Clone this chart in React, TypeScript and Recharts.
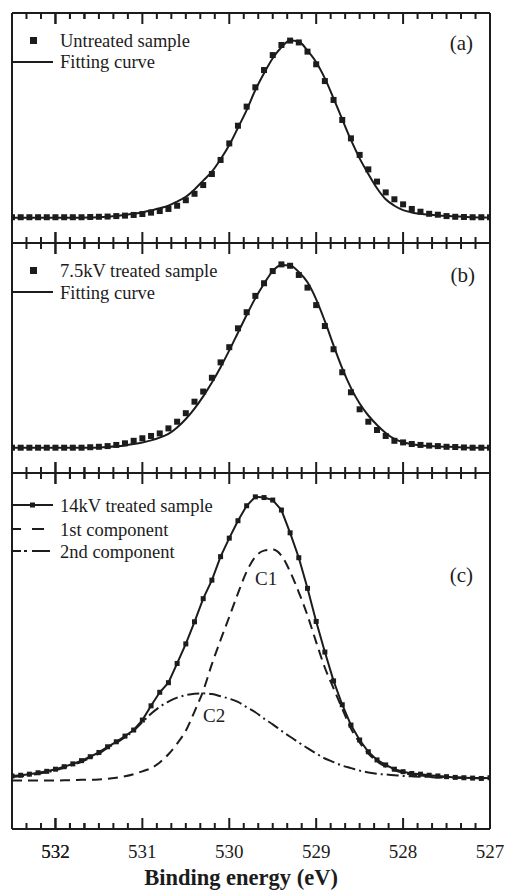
import { ComposedChart, Line, Scatter, XAxis, YAxis } from 'recharts';

// binding energy (eV), one point every 0.1 eV
const energy = [
  532.5, 532.4, 532.3, 532.2, 532.1, 532.0, 531.9, 531.8, 531.7, 531.6,
  531.5, 531.4, 531.3, 531.2, 531.1, 531.0, 530.9, 530.8, 530.7, 530.6,
  530.5, 530.4, 530.3, 530.2, 530.1, 530.0, 529.9, 529.8, 529.7, 529.6,
  529.5, 529.4, 529.3, 529.2, 529.1, 529.0, 528.9, 528.8, 528.7, 528.6,
  528.5, 528.4, 528.3, 528.2, 528.1, 528.0, 527.9, 527.8, 527.7, 527.6,
  527.5, 527.4, 527.3, 527.2, 527.1, 527.0,
];

// (a) untreated
const aSample = [
  11.2, 11.2, 11.2, 11.2, 11.2, 11.2, 11.2, 11.2, 11.2, 11.3,
  11.4, 11.5, 11.7, 11.9, 12.2, 12.6, 13.2, 13.9, 14.8, 16.2,
  18.6, 21.4, 25.2, 30.0, 36.1, 43.3, 51.0, 59.3, 67.7, 75.2,
  81.7, 86.1, 88.0, 87.2, 83.2, 77.7, 70.4, 62.2, 53.5, 45.5,
  38.3, 32.0, 26.7, 22.0, 19.0, 16.8, 14.8, 13.6, 12.7, 12.3,
  11.7, 11.4, 11.3, 11.2, 11.2, 11.2,
];
const aFit = [
  11.0, 11.0, 11.0, 11.0, 11.0, 11.0, 11.0, 11.0, 11.0, 11.1,
  11.2, 11.4, 11.7, 12.2, 12.7, 13.3, 14.2, 15.1, 16.2, 18.0,
  20.1, 23.3, 27.1, 31.0, 36.4, 42.6, 50.1, 57.8, 66.5, 73.8,
  80.3, 85.1, 88.0, 87.6, 83.6, 78.6, 71.6, 62.9, 53.8, 44.8,
  36.8, 30.0, 23.8, 19.0, 16.2, 14.3, 13.3, 12.7, 12.3, 12.0,
  11.8, 11.6, 11.4, 11.2, 11.1, 11.0,
];

// (b) 7.5 kV
const bSample = [
  11.0, 11.0, 11.0, 11.0, 11.0, 11.0, 11.0, 11.0, 11.0, 11.2,
  11.4, 11.7, 12.2, 12.9, 14.0, 15.1, 16.1, 17.2, 19.4, 22.3,
  26.0, 31.0, 35.4, 41.4, 48.1, 54.7, 62.9, 69.9, 77.0, 82.5,
  87.8, 90.7, 90.1, 86.1, 80.6, 73.0, 63.9, 53.8, 43.8, 35.1,
  27.7, 22.3, 18.7, 16.1, 14.0, 13.3, 12.6, 12.2, 11.9, 11.7,
  11.4, 11.3, 11.1, 11.0, 11.0, 11.0,
];
const bFit = [
  11.0, 11.0, 11.0, 11.0, 11.0, 11.0, 11.0, 11.0, 11.0, 11.0,
  11.1, 11.3, 11.6, 12.0, 12.6, 13.3, 14.2, 15.4, 17.0, 19.8,
  23.5, 28.0, 33.3, 39.3, 46.0, 53.3, 61.0, 68.7, 76.0, 82.3,
  87.8, 90.4, 90.2, 87.4, 82.9, 75.5, 66.0, 55.5, 45.5, 37.0,
  30.2, 25.0, 20.9, 17.4, 14.8, 13.4, 12.5, 12.0, 11.7, 11.5,
  11.4, 11.3, 11.1, 11.0, 11.0, 11.0,
];

// (c) 14 kV and its two components
const cSample = [
  14.9, 15.1, 15.4, 15.8, 16.2, 16.8, 17.5, 18.3, 19.2, 20.3,
  21.5, 23.1, 24.5, 26.1, 27.8, 30.6, 34.6, 38.4, 41.1, 46.5,
  52.0, 58.2, 64.7, 69.9, 76.5, 81.7, 86.6, 90.8, 93.3, 93.1,
  92.4, 89.6, 83.2, 76.2, 67.6, 58.3, 49.7, 41.6, 34.9, 29.2,
  25.0, 21.7, 19.4, 18.0, 16.8, 16.1, 15.6, 15.4, 15.1, 14.9,
  14.7, 14.5, 14.4, 14.3, 14.2, 14.4,
];
const cC1 = [
  13.6, 13.6, 13.6, 13.6, 13.6, 13.6, 13.7, 13.7, 13.8, 13.8,
  13.9, 14.1, 14.4, 14.8, 15.4, 16.2, 17.1, 18.7, 21.0, 24.0,
  27.6, 33.0, 38.8, 46.3, 53.1, 59.6, 66.2, 72.3, 76.5, 78.2,
  78.5, 76.8, 72.3, 66.5, 60.0, 52.5, 45.3, 39.5, 33.8, 28.2,
  24.3, 21.2, 19.0, 17.5, 16.5, 15.8, 15.3, 15.0, 14.8, 14.7,
  14.6, 14.5, 14.4, 14.3, 14.3, 14.3,
];
const cC2 = [
  14.6, 14.8, 15.1, 15.5, 15.9, 16.5, 17.2, 18.0, 18.9, 20.0,
  21.2, 22.8, 24.2, 25.8, 27.6, 30.0, 32.4, 34.3, 35.8, 36.9,
  37.6, 38.0, 38.1, 37.9, 37.3, 36.6, 35.7, 34.2, 32.8, 31.0,
  29.4, 27.6, 25.9, 24.3, 22.7, 21.2, 19.8, 18.8, 17.8, 17.1,
  16.4, 15.9, 15.5, 15.3, 15.1, 14.9, 14.8, 14.7, 14.6, 14.5,
  14.5, 14.4, 14.4, 14.3, 14.3, 14.3,
];

const majorTicks = [532, 531, 530, 529, 528, 527];
// 5 minor ticks between labelled ones (every 1/6 eV)
const allTicks = [532.5, ...majorTicks]
  .flatMap((m) => [0, 1, 2, 3, 4, 5].map((k) => m - k / 6))
  .filter((v) => v >= 527 - 1e-6 && v < 532.5 - 1e-6);

const tableA = energy.map((e, i) => ({ e, sample: aSample[i], fit: aFit[i] }));
const tableB = energy.map((e, i) => ({ e, sample: bSample[i], fit: bFit[i] }));
const tableC = energy.map((e, i) => ({ e, sample: cSample[i], c1: cC1[i], c2: cC2[i] }));

const ink = '#1c1c1c';
const serif = '"Liberation Serif", "Times New Roman", serif';
const axisLine = { stroke: ink, strokeWidth: 2 };
const isMajor = (v: number) => Math.abs(v - Math.round(v)) < 1e-6;

const bottomTick = (labels: boolean) => (p: any) => {
  const major = isMajor(p.payload.value);
  return (
    <g>
      <line x1={p.x} x2={p.x} y1={p.y} y2={p.y - (major ? 11 : 6)} stroke={ink} strokeWidth={2} />
      {labels && major && (
        <text x={p.x} y={p.y + 29} textAnchor="middle" fontFamily={serif} fontSize={19} fill={ink}>
          {Math.round(p.payload.value)}
        </text>
      )}
    </g>
  );
};

const topTick = (p: any) => {
  const major = isMajor(p.payload.value);
  return <line x1={p.x} x2={p.x} y1={p.y} y2={p.y + (major ? 11 : 6)} stroke={ink} strokeWidth={2} />;
};

const square = (s: number) => (p: any) => (
  <rect x={p.cx - s / 2} y={p.cy - s / 2} width={s} height={s} fill={ink} />
);

// axes are 1px thick, so margins are 1px smaller than the frame offsets
function Panel({ data, height, margin, labels, children }: any) {
  return (
    <ComposedChart width={506} height={height} data={data} margin={margin}>
      <XAxis
        dataKey="e" type="number" domain={[527, 532.5]} reversed allowDataOverflow
        ticks={allTicks} interval={0} height={1} tickSize={0} tickMargin={0}
        axisLine={axisLine} tickLine={false} tick={bottomTick(labels)}
      />
      <XAxis
        xAxisId="top" orientation="top" dataKey="e" type="number" domain={[527, 532.5]} reversed allowDataOverflow
        ticks={allTicks} interval={0} height={1} tickSize={0} tickMargin={0}
        axisLine={axisLine} tickLine={false} tick={topTick}
      />
      <YAxis domain={[0, 100]} width={1} tick={false} tickLine={false} axisLine={axisLine} />
      <YAxis yAxisId="right" orientation="right" domain={[0, 100]} width={1} tick={false} tickLine={false} axisLine={axisLine} />
      {children}
    </ComposedChart>
  );
}

const txt = { fontFamily: serif, fill: ink };

export default function App() {
  return (
    <div style={{ position: 'absolute', left: 0, top: 0, width: 506, height: 891, background: '#fff' }}>
      <div style={{ position: 'absolute', left: 0, top: 0 }}>
        <Panel data={tableA} height={250} margin={{ top: 12, right: 15, bottom: 6, left: 11 }} labels={false}>
          <Line dataKey="fit" type="monotone" stroke={ink} strokeWidth={2} dot={false} isAnimationActive={false} />
          <Scatter dataKey="sample" shape={square(6)} isAnimationActive={false} />
        </Panel>
      </div>
      <div style={{ position: 'absolute', left: 0, top: 236 }}>
        <Panel data={tableB} height={244} margin={{ top: 6, right: 15, bottom: 6, left: 11 }} labels={false}>
          <Line dataKey="fit" type="monotone" stroke={ink} strokeWidth={2} dot={false} isAnimationActive={false} />
          <Scatter dataKey="sample" shape={square(6)} isAnimationActive={false} />
        </Panel>
      </div>
      <div style={{ position: 'absolute', left: 0, top: 466 }}>
        <Panel data={tableC} height={425} margin={{ top: 6, right: 15, bottom: 61, left: 11 }} labels>
          <Line dataKey="c1" type="monotone" stroke={ink} strokeWidth={2} strokeDasharray="10 6" dot={false} isAnimationActive={false} />
          <Line dataKey="c2" type="monotone" stroke={ink} strokeWidth={2} strokeDasharray="12 4 2 4" dot={false} isAnimationActive={false} />
          <Line dataKey="sample" type="linear" stroke={ink} strokeWidth={2} dot={square(5)} isAnimationActive={false} />
        </Panel>
      </div>
      <svg width={506} height={891} style={{ position: 'absolute', left: 0, top: 0, pointerEvents: 'none' }}>
        {/* (a) legend */}
        <rect x={30} y={37} width={7} height={7} fill={ink} />
        <text x={60} y={46.5} fontSize={18.5} {...txt}>Untreated sample</text>
        <line x1={12} x2={53} y1={62} y2={62} stroke={ink} strokeWidth={2} />
        <text x={60} y={68} fontSize={18.5} {...txt}>Fitting curve</text>
        <text x={473} y={50} fontSize={21} textAnchor="end" {...txt}>(a)</text>

        {/* (b) legend */}
        <rect x={30} y={267} width={7} height={7} fill={ink} />
        <text x={60} y={277} fontSize={18.5} {...txt}>7.5kV treated sample</text>
        <line x1={12} x2={53} y1={292} y2={292} stroke={ink} strokeWidth={2} />
        <text x={60} y={299} fontSize={18.5} {...txt}>Fitting curve</text>
        <text x={475} y={282} fontSize={21} textAnchor="end" {...txt}>(b)</text>

        {/* (c) legend */}
        <line x1={12} x2={53} y1={505} y2={505} stroke={ink} strokeWidth={2} />
        <rect x={30} y={502.5} width={5} height={5} fill={ink} />
        <text x={60} y={511.5} fontSize={18.5} {...txt}>14kV treated sample</text>
        <line x1={12} x2={44} y1={529} y2={529} stroke={ink} strokeWidth={2} strokeDasharray="9 11 12" />
        <text x={60} y={536} fontSize={18.5} {...txt}>1st component</text>
        <line x1={12} x2={50} y1={551} y2={551} stroke={ink} strokeWidth={2} strokeDasharray="9 3 3 5 18" />
        <text x={60} y={557.5} fontSize={18.5} {...txt}>2nd component</text>
        <text x={473} y={582} fontSize={21} textAnchor="end" {...txt}>(c)</text>

        <text x={255} y={585} fontSize={19} {...txt}>C1</text>
        <text x={203} y={721.5} fontSize={19} {...txt}>C2</text>

        <text x={241} y={885} fontSize={22.5} fontWeight="bold" textAnchor="middle" {...txt}>Binding energy (eV)</text>
      </svg>
    </div>
  );
}
